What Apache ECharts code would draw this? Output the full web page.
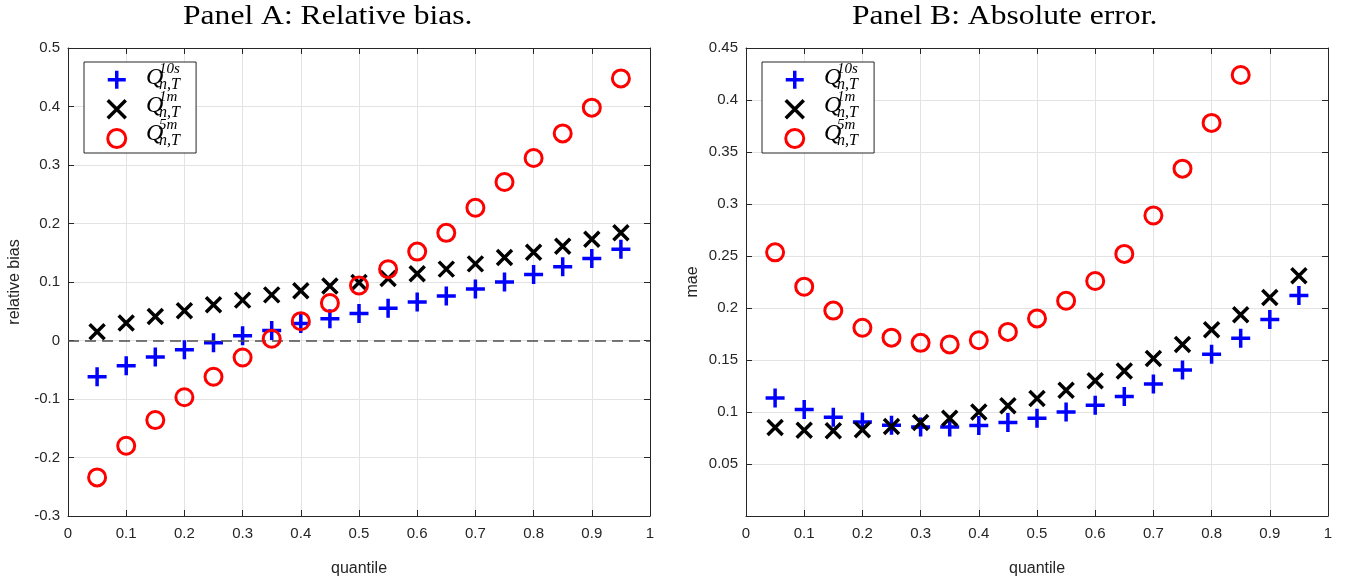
<!DOCTYPE html>
<html>
<head>
<meta charset="utf-8">
<script src="https://cdn.jsdelivr.net/npm/echarts@6/dist/echarts.min.js"></script>
<style>
html,body{margin:0;padding:0;background:#fff;}
#c{width:1351px;height:582px;}
</style>
</head>
<body>
<div id="c"></div>
<script>
// ---- data ----
const quantiles = [0.05,0.1,0.15,0.2,0.25,0.3,0.35,0.4,0.45,0.5,0.55,0.6,0.65,0.7,0.75,0.8,0.85,0.9,0.95];
// Panel A: relative bias
const biasQ10s = [-0.062,-0.043,-0.028,-0.016,-0.004,0.008,0.017,0.029,0.037,0.046,0.055,0.066,0.076,0.088,0.100,0.113,0.126,0.140,0.156];
const biasQ1m  = [0.015,0.030,0.041,0.051,0.061,0.069,0.078,0.085,0.093,0.099,0.106,0.114,0.122,0.131,0.142,0.151,0.161,0.173,0.184];
const biasQ5m  = [-0.234,-0.180,-0.136,-0.097,-0.062,-0.029,0.003,0.033,0.064,0.094,0.122,0.152,0.184,0.227,0.271,0.312,0.354,0.398,0.448];
// Panel B: absolute error
const maeQ10s = [0.1134,0.1025,0.0950,0.0905,0.0873,0.0855,0.0855,0.0870,0.0900,0.0940,0.1000,0.1064,0.1150,0.1270,0.1405,0.1555,0.1710,0.1890,0.2120];
const maeQ1m  = [0.0850,0.0825,0.0820,0.0830,0.0860,0.0900,0.0940,0.1000,0.1060,0.1130,0.1210,0.1300,0.1395,0.1515,0.1650,0.1790,0.1935,0.2100,0.2310];
const maeQ5m  = [0.2535,0.2205,0.1975,0.1810,0.1715,0.1665,0.1650,0.1690,0.1770,0.1900,0.2070,0.2260,0.2520,0.2890,0.3340,0.3780,0.4240];
// tick settings
const xTicks = {min:0, max:1, interval:0.1};
const yTicksA = {min:-0.3, max:0.5, interval:0.1};
const yTicksB = {min:0, max:0.45, interval:0.05};
const titles = ['Panel A: Relative bias.', 'Panel B: Absolute error.'];
const yNames = ['relative bias', 'mae'];
const xName = 'quantile';
const legendSup = ['10s','1m','5m'];

// ---- styling ----
const AX = '#262626';
const GRIDC = '#e3e3e3';
const tickFont = {fontFamily:'Liberation Sans, Arial, sans-serif', fontSize:15, color:AX};
const plusPath = 'path://M10,0 L10,20 M0,10 L20,10';
const crossPath = 'path://M0,0 L20,20 M0,20 L20,0';
function fmt(v){ return String(+v.toFixed(2)); }

const grids = [
  {left:68, right:701, top:48, bottom:62, containLabel:false},
  {left:746, right:23, top:48, bottom:62, containLabel:false}
];

function mkX(gi, pos){
  const main = pos === 'bottom';
  return {
    type:'value', gridIndex:gi, position:pos, min:xTicks.min, max:xTicks.max, interval:xTicks.interval,
    name: main ? xName : '', nameLocation:'middle', nameGap:45,
    nameTextStyle:{fontFamily:'Liberation Sans, Arial, sans-serif', fontSize:16, color:AX},
    axisLine:{show:true, onZero:false, lineStyle:{color:AX, width:1}},
    axisTick:{show:true, inside:true, length:6, lineStyle:{color:AX}},
    axisLabel:{show:main, margin:10, formatter:fmt, ...tickFont},
    splitLine:{show:main, lineStyle:{color:GRIDC, width:1}}
  };
}
function mkY(gi, pos, t){
  const main = pos === 'left';
  return {
    type:'value', gridIndex:gi, position:pos, min:t.min, max:t.max, interval:t.interval,
    name: main ? yNames[gi] : '', nameLocation:'middle', nameGap:45, nameRotate:90,
    nameTextStyle:{fontFamily:'Liberation Sans, Arial, sans-serif', fontSize:16, color:AX},
    axisLine:{show:true, onZero:false, lineStyle:{color:AX, width:1}},
    axisTick:{show:true, inside:true, length:6, lineStyle:{color:AX}},
    axisLabel:{show:main, margin:8, ...tickFont,
      formatter: v => (gi===1 && Math.abs(v)<1e-9) ? '' : fmt(v)},
    splitLine:{show:main, lineStyle:{color:GRIDC, width:1}}
  };
}

const xAxes = [mkX(0,'bottom'), mkX(0,'top'), mkX(1,'bottom'), mkX(1,'top')];
const yAxes = [mkY(0,'left',yTicksA), mkY(0,'right',yTicksA), mkY(1,'left',yTicksB), mkY(1,'right',yTicksB)];

function pairs(vals){ return vals.map((v,i)=>[quantiles[i], v]); }

const seriesDefs = [
  {key:'Q10s', sym:plusPath, size:19, stroke:'#0000ff', bw:3.5},
  {key:'Q1m',  sym:crossPath, size:15, stroke:'#000000', bw:3.5},
  {key:'Q5m',  sym:'circle', size:17, stroke:'#ff0000', bw:3}
];
const panelData = [[biasQ10s,biasQ1m,biasQ5m],[maeQ10s,maeQ1m,maeQ5m]];

const series = [];
panelData.forEach((arrs, gi) => {
  arrs.forEach((vals, si) => {
    const d = seriesDefs[si];
    const s = {
      type:'scatter', name:d.key, xAxisIndex:gi*2, yAxisIndex:gi*2,
      data:pairs(vals), symbol:d.sym, symbolSize:d.size,
      itemStyle:{color:'rgba(0,0,0,0)', borderColor:d.stroke, borderWidth:d.bw, opacity:1},
      emphasis:{disabled:true}, silent:true, animation:false, z:3+si
    };
    if (gi===0 && si===0){
      s.markLine = {silent:true, symbol:['none','none'], label:{show:false},
        lineStyle:{type:[11,6], color:'#4d4d4d', width:1.5},
        data:[{yAxis:0}], animation:false};
    }
    series.push(s);
  });
});

const legendLeft = [84, 762];
const legends = legendLeft.map(l => ({
  left:l, top:62, orient:'vertical', itemWidth:18, itemHeight:18, itemGap:8,
  padding:[7,62,4,22], borderColor:AX, borderWidth:1, backgroundColor:'#fff',
  data: seriesDefs.map(d => ({name:d.key,
    itemStyle:{color:'rgba(0,0,0,0)', borderColor:d.stroke, borderWidth:d.bw}})),
  selectedMode:false,
  formatter: () => ' ',
  textStyle:{fontSize:12, lineHeight:20, height:20}
}));

const graphics = [];
titles.forEach((t, i) => {
  graphics.push({type:'text', left: i===0 ? 183 : 852, top:3, z:100, scaleX:1.17,
    style:{text:t, font:'27px "Liberation Serif", serif', fill:'#000'}});
});
legendLeft.forEach(l => {
  legendSup.forEach((sup, i) => {
    const cy = 79 + i*28;
    graphics.push({type:'text', left:l+62, top:cy-13, z:100,
      style:{text:'Q', font:'italic 24px "Liberation Serif", serif', fill:'#000'}});
    graphics.push({type:'text', left:l+75, top:cy-17, z:100,
      style:{text:sup, font:'italic 15px "Liberation Serif", serif', fill:'#000'}});
    graphics.push({type:'text', left:l+75, top:cy-2, z:100,
      style:{text:'n,T', font:'italic 16px "Liberation Serif", serif', fill:'#000'}});
  });
});

const option = {
  backgroundColor:'#fff',
  animation:false,
  grid: grids,
  xAxis: xAxes,
  yAxis: yAxes,
  legend: legends,
  series: series,
  graphic: graphics
};
const chart = echarts.init(document.getElementById('c'), null, {renderer:'canvas'});
chart.setOption(option);
</script>
</body>
</html>
